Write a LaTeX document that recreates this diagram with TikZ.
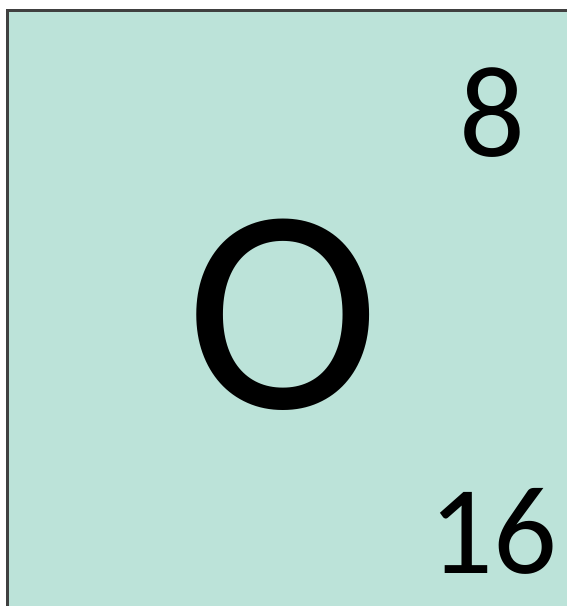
\documentclass[tikz,border=0pt]{standalone}
\usepackage{fontspec}
\setmainfont{Carlito}
\definecolor{tilefill}{HTML}{BCE3D9}
\definecolor{tileedge}{HTML}{404040}
\begin{document}
\begin{tikzpicture}[x=1pt,y=1pt,
    elem/.style={inner sep=0pt,anchor=base,text=black}]
  \useasboundingbox (0,0) rectangle (567,606);
  \clip (0,0) rectangle (567,606);
  \draw[tileedge,fill=tilefill,line width=3pt] (7.5,595.5) rectangle (600,-20);
  \node[elem,font=\fontsize{292}{292}\selectfont] (symbol) at (283,197) {O};
  \node[elem,font=\fontsize{130}{130}\selectfont] (number) at (492,449) {8};
  \node[elem,font=\fontsize{126}{126}\selectfont] (mass) at (493,32) {16};
\end{tikzpicture}
\end{document}
